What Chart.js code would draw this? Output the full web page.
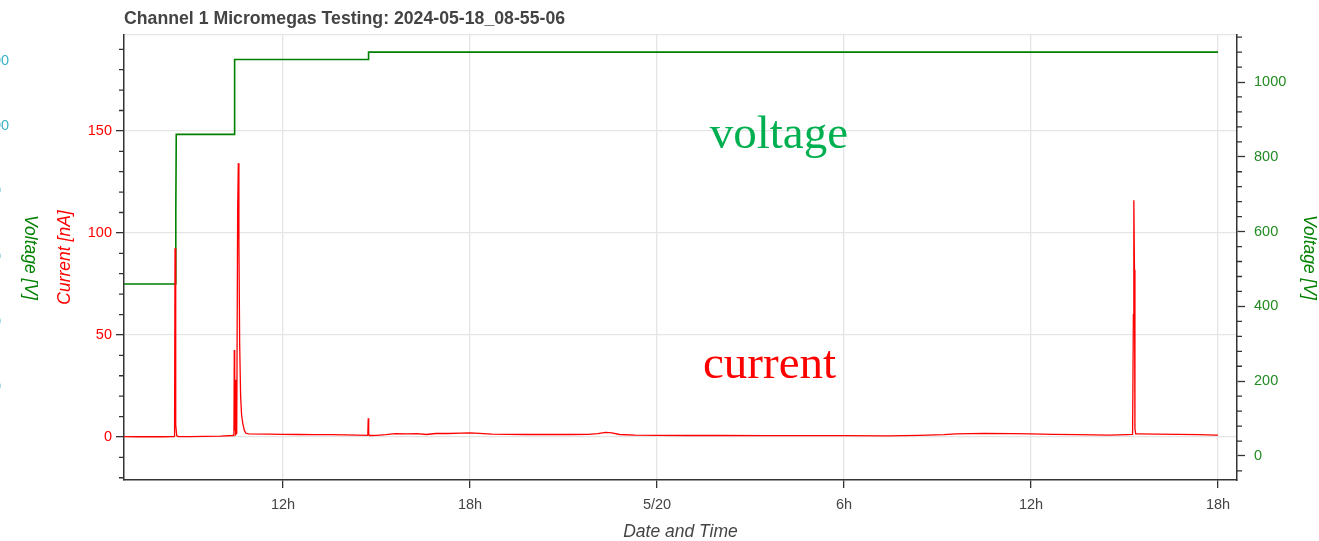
<!DOCTYPE html>
<html>
<head>
<meta charset="utf-8">
<script src="https://cdn.jsdelivr.net/npm/chart.js@4.4.0/dist/chart.umd.min.js"></script>
<style>
html,body{margin:0;padding:0;background:#fff;}
#wrap{width:1319px;height:541px;position:relative;}
</style>
</head>
<body>
<div id="wrap"><canvas id="c"></canvas></div>
<script>
// ---------------- data ----------------
const chartTitle = 'Channel 1 Micromegas Testing: 2024-05-18_08-55-06';
const xAxisTitle = 'Date and Time';
const currentAxisTitle = 'Current [nA]';
const voltageAxisTitle = 'Voltage [V]';

// x values are hours since 5/19 00:00
const timeTicks = [12, 18, 24, 30, 36, 42];
const timeTickLabels = ['12h', '18h', '5/20', '6h', '12h', '18h'];
const currentTicks = [0, 50, 100, 150];
const voltageTicks = [0, 200, 400, 600, 800, 1000];
const offscreenVoltageTicks = [1200, 1000, 800, 600, 400, 200, 0];

const voltageTimes  = [6.90, 8.550, 8.560, 8.575, 10.430, 10.440, 10.455, 14.730, 14.745, 42.00];
const voltageValues = [460,  460,   650,   860,   860,    960,    1060,   1060,   1080,   1080];

const currentTimes = [
  6.90, 7.30, 7.70, 8.10, 8.50, 8.52, 8.535, 8.55, 8.565, 8.59, 8.65, 9.00, 9.50, 10.00,
  10.40, 10.425, 10.437, 10.45, 10.462, 10.48, 10.515, 10.545, 10.566, 10.585, 10.61, 10.64,
  10.67, 10.71, 10.76, 10.81, 10.90, 11.50, 12.00, 12.50, 13.00, 13.50, 14.00, 14.72, 14.735,
  14.75, 14.78, 15.00, 15.30, 15.60, 16.00, 16.30, 16.60, 16.90, 17.30, 17.70, 18.00, 18.30,
  18.70, 19.20, 19.80, 20.50, 21.20, 21.80, 22.10, 22.35, 22.55, 22.80, 23.30, 24.00, 25.00,
  26.00, 27.50, 29.00, 30.00, 31.40, 32.40, 33.20, 33.60, 34.50, 35.40, 36.00, 36.70, 37.50,
  38.50, 39.10, 39.26, 39.285, 39.30, 39.32, 39.335, 39.36, 39.40, 40.00, 40.70, 41.40, 41.93, 42.00
];
const currentValues = [
  0.2, 0.1, 0.2, 0.1, 0.2, 0.3, 92.5, 55, 6, 0.6, 0.2, 0.2, 0.3, 0.4,
  0.7, 0.9, 42.6, 3, 28, 1.2, 1.8, 112, 134.2, 95, 45, 20,
  11, 6.5, 3.2, 1.8, 1.5, 1.4, 1.3, 1.2, 1.1, 1.1, 1.0, 0.8, 9.2,
  1.2, 0.7, 0.8, 1.1, 1.6, 1.5, 1.6, 1.2, 1.7, 1.7, 1.9, 2.0, 1.8,
  1.4, 1.3, 1.2, 1.2, 1.2, 1.3, 1.6, 2.2, 2.0, 1.2, 0.9, 0.8, 0.7,
  0.7, 0.6, 0.6, 0.6, 0.5, 0.8, 1.1, 1.5, 1.8, 1.6, 1.5, 1.3, 1.1,
  0.9, 1.1, 1.2, 60, 116, 82, 4, 1.5, 1.5, 1.4, 1.3, 1.1, 0.9, 0.9
];

const annotationTexts  = ['voltage', 'current'];
const annotationTimes  = [27.91, 27.61];
const annotationValues = [823.5, 28.9];
const annotationAxes   = ['y2', 'y'];
const annotationColors = ['#00b050', '#ff0000'];

// ---------------- chart ----------------
const SANS = '"Liberation Sans", Arial, Helvetica, sans-serif';
const AXIS = '#333333';
const GRID = '#e5e5e5';

const extras = {
  id: 'extras',
  afterDraw(chart) {
    const ctx = chart.ctx, ca = chart.chartArea;
    const sx = chart.scales.x, sy = chart.scales.y, sy2 = chart.scales.y2, sg = chart.scales.yGhost;
    ctx.save();
    // minor ticks
    ctx.strokeStyle = AXIS; ctx.lineWidth = 1.3;
    ctx.beginPath();
    for (let v = -20; v <= 190; v += 10) {
      if (v % 50 === 0) continue;
      const p = sy.getPixelForValue(v);
      ctx.moveTo(ca.left - 5, p); ctx.lineTo(ca.left, p);
    }
    for (let v = -40; v <= 1120; v += 40) {
      if (v % 200 === 0) continue;
      const p = sy2.getPixelForValue(v);
      ctx.moveTo(ca.right, p); ctx.lineTo(ca.right + 5, p);
    }
    ctx.stroke();
    // annotations
    ctx.font = '47px "Liberation Serif", "Times New Roman", serif';
    ctx.textAlign = 'center'; ctx.textBaseline = 'alphabetic';
    annotationTexts.forEach((t, i) => {
      ctx.fillStyle = annotationColors[i];
      ctx.fillText(t, sx.getPixelForValue(annotationTimes[i]),
        chart.scales[annotationAxes[i]].getPixelForValue(annotationValues[i]));
    });
    // partially visible extra axis on the far left
    ctx.font = '14.5px ' + SANS;
    ctx.fillStyle = '#3cb4c4'; ctx.textAlign = 'left'; ctx.textBaseline = 'middle';
    offscreenVoltageTicks.forEach(v => ctx.fillText(String(v), -23.1, sg.getPixelForValue(v)));
    ctx.translate(30, (ca.top + ca.bottom) / 2);
    ctx.rotate(Math.PI / 2);
    ctx.font = 'italic 17.5px ' + SANS;
    ctx.fillStyle = '#008000'; ctx.textAlign = 'center';
    ctx.fillText(voltageAxisTitle, 0, 0);
    ctx.restore();
  }
};

const tickSetter = (vals) => (scale) => { scale.ticks = vals.map(v => ({ value: v })); };

new Chart(document.getElementById('c'), {
  type: 'line',
  data: {
    datasets: [
      {
        label: 'current',
        data: currentTimes.map((t, i) => ({ x: t, y: currentValues[i] })),
        yAxisID: 'y', xAxisID: 'x',
        borderColor: '#ff0000', borderWidth: 1.3,
        pointRadius: 0, tension: 0, fill: false
      },
      {
        label: 'voltage',
        data: voltageTimes.map((t, i) => ({ x: t, y: voltageValues[i] })),
        yAxisID: 'y2', xAxisID: 'x',
        borderColor: '#008000', borderWidth: 1.6,
        pointRadius: 0, tension: 0, fill: false
      }
    ]
  },
  options: {
    responsive: true, maintainAspectRatio: false, animation: false,
    layout: { padding: 0 },
    plugins: {
      legend: { display: false },
      tooltip: { enabled: false },
      title: {
        display: true, text: chartTitle, align: 'start', fullSize: false,
        color: '#444444',
        font: { family: SANS, size: 17.7, weight: 'bold', lineHeight: 1.2 },
        padding: { top: 8, bottom: 5.76 }
      }
    },
    scales: {
      x: {
        type: 'linear', position: 'bottom', min: 6.898, max: 42.61,
        afterBuildTicks: tickSetter(timeTicks),
        afterFit: s => { s.height = 61; },
        grid: { color: GRID, lineWidth: 1.3, tickColor: AXIS, tickLength: 8, tickWidth: 1.3 },
        border: { color: AXIS, width: 1.5 },
        ticks: {
          autoSkip: false, maxRotation: 0, padding: 8, color: '#444444',
          font: { family: SANS, size: 14.5 },
          callback: (v, i) => timeTickLabels[i]
        },
        title: {
          display: true, text: xAxisTitle, color: '#444444',
          font: { family: SANS, size: 17.5, style: 'italic', lineHeight: 1 },
          padding: { top: 0, bottom: 0.25 }
        }
      },
      xTop: {
        type: 'linear', position: 'top', min: 6.898, max: 42.61,
        afterFit: s => { s.height = 0; },
        grid: { display: false },
        ticks: { display: false },
        border: { color: GRID, width: 1.3 }
      },
      y: {
        type: 'linear', position: 'left', min: -21.1, max: 197,
        afterBuildTicks: tickSetter(currentTicks),
        afterFit: s => { s.width = 124; },
        grid: { color: GRID, lineWidth: 1.3, tickColor: AXIS, tickLength: 8, tickWidth: 1.3 },
        border: { color: AXIS, width: 1.5 },
        ticks: { padding: 4, color: '#ff0000', font: { family: SANS, size: 14.5 },
                 callback: v => String(v) },
        title: {
          display: true, text: currentAxisTitle, color: '#ff0000',
          font: { family: SANS, size: 17.5, style: 'italic', lineHeight: 1 },
          padding: { top: 56.25, bottom: 0 }
        }
      },
      y2: {
        type: 'linear', position: 'right', min: -64.2, max: 1125.7,
        afterBuildTicks: tickSetter(voltageTicks),
        afterFit: s => { s.width = 82; },
        grid: { drawOnChartArea: false, tickColor: AXIS, tickLength: 8, tickWidth: 1.3 },
        border: { color: AXIS, width: 1.5 },
        ticks: { padding: 9, color: '#228b22', font: { family: SANS, size: 14.5 },
                 callback: v => String(v) },
        title: {
          display: true, text: voltageAxisTitle, color: '#008000',
          font: { family: SANS, size: 17.5, style: 'italic', lineHeight: 1 },
          padding: { top: 1.25, bottom: 0 }
        }
      },
      yGhost: {
        type: 'linear', position: 'left', display: false, min: -85.3, max: 1279.8
      }
    }
  },
  plugins: [extras]
});
</script>
</body>
</html>
